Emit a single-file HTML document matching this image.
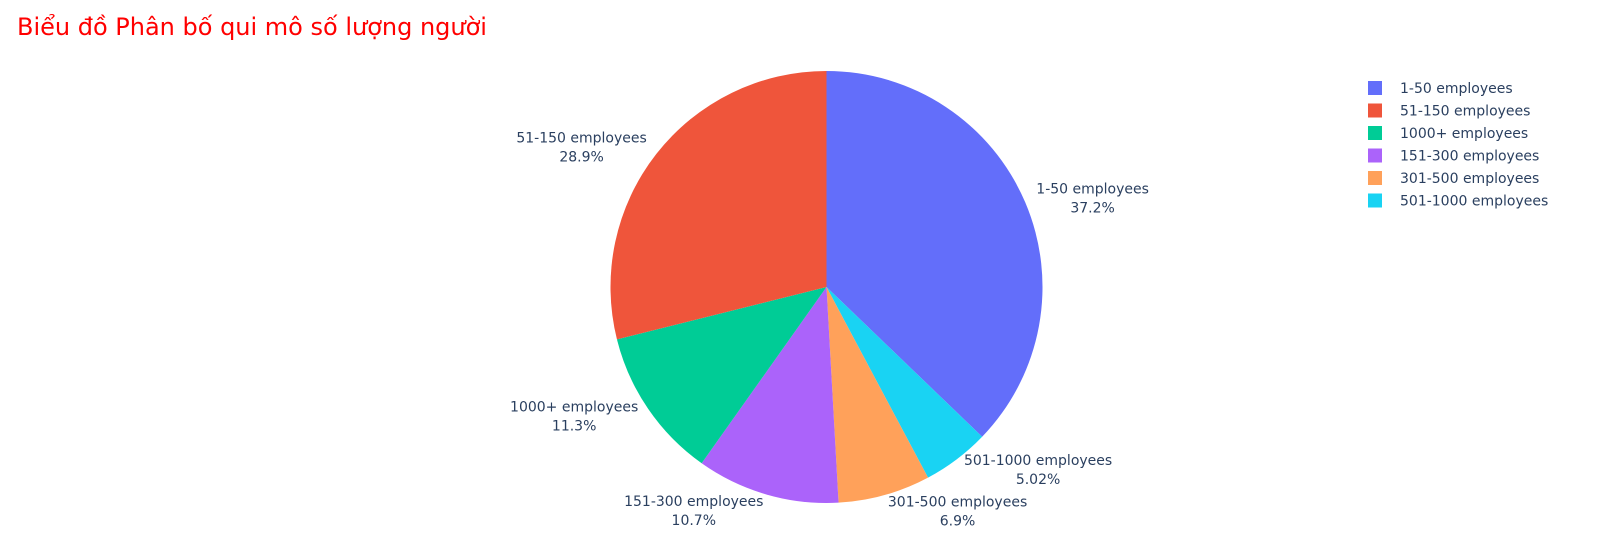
<!DOCTYPE html>
<html><head><meta charset="utf-8"><style>
body{margin:0;background:#fff;}
svg{display:block;font-family:"DejaVu Sans","Liberation Sans",sans-serif;}
</style></head><body>
<svg id="chart" width="1598" height="542" viewBox="0 0 1598 542">
<text x="17" y="35" font-size="24" fill="#ff0000">Biểu đồ Phân bố qui mô số lượng người</text>
<g id="slices"></g>
<g id="labels"></g>
<g id="legend"></g>
</svg>
<script>
const categories = ["1-50 employees","501-1000 employees","301-500 employees","151-300 employees","1000+ employees","51-150 employees"];
const values = [37.2, 5.02, 6.9, 10.7, 11.3, 28.9];
const colors = ["#636efa","#19d3f3","#FFA15A","#ab63fa","#00cc96","#EF553B"];
const pctLabels = ["37.2%","5.02%","6.9%","10.7%","11.3%","28.9%"];
const legendOrder = ["1-50 employees","51-150 employees","1000+ employees","151-300 employees","301-500 employees","501-1000 employees"];

const NS="http://www.w3.org/2000/svg";
const cx=826.5, cy=287, r=216;
const total=values.reduce((a,b)=>a+b,0);
const sG=document.getElementById('slices'), lG=document.getElementById('labels'), gG=document.getElementById('legend');
function pt(a,rad){return [cx+rad*Math.sin(a), cy-rad*Math.cos(a)];}
let acc=0;
values.forEach((v,i)=>{
  const a0=acc/total*2*Math.PI; acc+=v; const a1=acc/total*2*Math.PI;
  const p0=pt(a0,r), p1=pt(a1,r);
  const large=(a1-a0)>Math.PI?1:0;
  const p=document.createElementNS(NS,'path');
  p.setAttribute('d',`M${cx},${cy} L${p0[0]},${p0[1]} A${r},${r} 0 ${large} 1 ${p1[0]},${p1[1]} Z`);
  p.setAttribute('fill',colors[i]);
  
  
  sG.appendChild(p);
  const am=(a0+a1)/2; const lp=pt(am,r+12);
  const right=Math.sin(am)>=0;
  const g=document.createElementNS(NS,'g');
  
  
  lG.appendChild(g);
  const t1=document.createElementNS(NS,'text');
  t1.textContent=categories[i]; t1.setAttribute('font-size','14'); t1.setAttribute('fill','#2a3f5f');
  g.appendChild(t1);
  const w=t1.getComputedTextLength();
  const mx= right? lp[0]+w/2 : lp[0]-w/2;
  const yc = lp[1] + (Math.cos(am)<-0.9?4:0);
  t1.setAttribute('x',mx); t1.setAttribute('y',yc-4); t1.setAttribute('text-anchor','middle');
  const t2=document.createElementNS(NS,'text');
  t2.textContent=pctLabels[i]; t2.setAttribute('font-size','14'); t2.setAttribute('fill','#2a3f5f');
  t2.setAttribute('x',mx); t2.setAttribute('y',yc+15); t2.setAttribute('text-anchor','middle');
  g.appendChild(t2);
});
legendOrder.forEach((c,k)=>{
  const i=categories.indexOf(c);
  const y=88+k*22.5;
  const g=document.createElementNS(NS,'g');
  
  
  const sq=document.createElementNS(NS,'rect');
  sq.setAttribute('x',1368); sq.setAttribute('y',y-7); sq.setAttribute('width',14); sq.setAttribute('height',14);
  sq.setAttribute('fill',colors[i]);
  const t=document.createElementNS(NS,'text');
  t.setAttribute('x',1400); t.setAttribute('y',y+5); t.setAttribute('font-size','14'); t.setAttribute('fill','#2a3f5f');
  t.textContent=c;
  g.appendChild(sq); g.appendChild(t); gG.appendChild(g);
});
</script>
</body></html>
